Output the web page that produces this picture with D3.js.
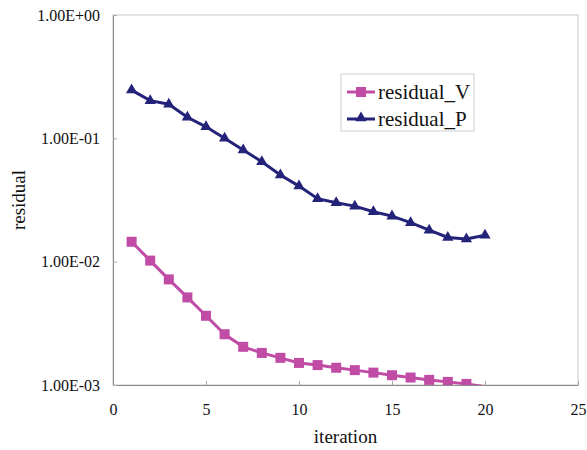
<!DOCTYPE html>
<html>
<head>
<meta charset="utf-8">
<script src="https://cdn.jsdelivr.net/npm/d3@7"></script>
<style>
  body { margin: 0; background: #fff; }
  svg text { font-family: "Liberation Serif", "Times New Roman", serif; fill: #111; }
</style>
</head>
<body>
<div id="chart"></div>
<script>
/* residual vs iteration, log scale */

var iterations = [1, 2, 3, 4, 5, 6, 7, 8, 9, 10, 11, 12, 13, 14, 15, 16, 17, 18, 19, 20];
var residualV = [0.0145, 0.0102, 0.00718, 0.00513, 0.00364, 0.00258, 0.00204, 0.00182, 0.00166, 0.00151,
                 0.00145, 0.00138, 0.00132, 0.00126, 0.00120, 0.00115, 0.00110, 0.00106, 0.00102, 0.00097];
var residualP = [0.246, 0.202, 0.189, 0.148, 0.124, 0.100, 0.0804, 0.0646, 0.0504, 0.0410,
                 0.0324, 0.0300, 0.0282, 0.0254, 0.0234, 0.0207, 0.0180, 0.0157, 0.0153, 0.0164];
var xTicks = [0, 5, 10, 15, 20, 25];
var yTicks = [1e-3, 1e-2, 1e-1, 1];
var yTickLabels = ['1.00E-03', '1.00E-02', '1.00E-01', '1.00E+00'];

var W = 587, H = 450;
var margin = { left: 113, right: 9, top: 15, bottom: 65 };

var svg = d3.select('#chart').append('svg')
    .attr('width', W)
    .attr('height', H);

var x = d3.scaleLinear().domain([0, 25]).range([margin.left, W - margin.right]);
var y = d3.scaleLog().domain([1e-3, 1]).range([H - margin.bottom, margin.top]);

// plot frame
svg.append('rect')
    .attr('x', x(0)).attr('y', y(1))
    .attr('width', x(25) - x(0)).attr('height', y(1e-3) - y(1))
    .attr('fill', 'none')
    .attr('stroke', '#c8c8c8')
    .attr('stroke-width', 1);

svg.append('defs').append('clipPath').attr('id', 'plot-clip')
    .append('rect')
    .attr('x', x(0)).attr('y', y(1))
    .attr('width', x(25) - x(0)).attr('height', y(1e-3) - y(1));

// axes (ticks pointing inward)
var xAxis = d3.axisBottom(x).tickValues(xTicks).tickSizeInner(-4).tickSizeOuter(0).tickPadding(19);
var gx = svg.append('g')
    .attr('transform', 'translate(0,' + y(1e-3) + ')')
    .call(xAxis);
gx.select('.domain').attr('stroke', '#8a8a8a');
gx.selectAll('.tick line').attr('stroke', '#aaa');
gx.selectAll('.tick text').attr('font-size', 16).attr('fill', '#111');

var yAxis = d3.axisLeft(y).tickValues(yTicks).tickSizeInner(-4).tickSizeOuter(0).tickPadding(13)
    .tickFormat(function(d, i) { return yTickLabels[i]; });
var gy = svg.append('g')
    .attr('transform', 'translate(' + x(0) + ',0)')
    .call(yAxis);
gy.select('.domain').attr('stroke', '#8a8a8a');
gy.selectAll('.tick line').attr('stroke', '#aaa');
gy.selectAll('.tick text').attr('font-size', 16).attr('fill', '#111');

svg.selectAll('.tick text').style('font-family', '"Liberation Serif", "Times New Roman", serif');

// series
var COLOR_V = '#c04ca6';
var COLOR_P = '#23237a';

var line = d3.line()
    .x(function(d) { return x(d[0]); })
    .y(function(d) { return y(d[1]); });

var dataV = iterations.map(function(it, i) { return [it, residualV[i]]; });
var dataP = iterations.map(function(it, i) { return [it, residualP[i]]; });

var plot = svg.append('g').attr('clip-path', 'url(#plot-clip)');

plot.append('path')
    .datum(dataV)
    .attr('d', line)
    .attr('fill', 'none')
    .attr('stroke', COLOR_V)
    .attr('stroke-width', 3);

plot.selectAll('rect.mv')
    .data(dataV.filter(function(d) { return d[1] >= 1e-3; }))
    .join('rect')
    .attr('class', 'mv')
    .attr('x', function(d) { return x(d[0]) - 5; })
    .attr('y', function(d) { return y(d[1]) - 5; })
    .attr('width', 10)
    .attr('height', 10)
    .attr('fill', COLOR_V);

plot.append('path')
    .datum(dataP)
    .attr('d', line)
    .attr('fill', 'none')
    .attr('stroke', COLOR_P)
    .attr('stroke-width', 3);

var tri = d3.symbol().type(d3.symbolTriangle).size(55);
plot.selectAll('path.mp')
    .data(dataP)
    .join('path')
    .attr('class', 'mp')
    .attr('d', tri)
    .attr('transform', function(d) { return 'translate(' + x(d[0]) + ',' + y(d[1]) + ')'; })
    .attr('fill', COLOR_P);

// legend
var lg = svg.append('g').attr('transform', 'translate(341,74)');
lg.append('rect')
    .attr('width', 133).attr('height', 57)
    .attr('fill', '#fff')
    .attr('stroke', '#cfcfcf');

lg.append('line').attr('x1', 6).attr('x2', 34).attr('y1', 18).attr('y2', 18)
    .attr('stroke', COLOR_V).attr('stroke-width', 3);
lg.append('rect').attr('x', 15).attr('y', 13).attr('width', 10).attr('height', 10).attr('fill', COLOR_V);
lg.append('text').attr('x', 37).attr('y', 25).attr('font-size', 21).text('residual_V');

lg.append('line').attr('x1', 6).attr('x2', 34).attr('y1', 45).attr('y2', 45)
    .attr('stroke', COLOR_P).attr('stroke-width', 3);
lg.append('path').attr('d', tri).attr('transform', 'translate(20,44)').attr('fill', COLOR_P);
lg.append('text').attr('x', 37).attr('y', 52).attr('font-size', 21).text('residual_P');

// axis titles
svg.append('text')
    .attr('x', (x(0) + x(25)) / 2)
    .attr('y', 443)
    .attr('text-anchor', 'middle')
    .attr('font-size', 19)
    .text('iteration');

svg.append('text')
    .attr('transform', 'translate(25,' + ((y(1) + y(1e-3)) / 2) + ') rotate(-90)')
    .attr('text-anchor', 'middle')
    .attr('font-size', 19)
    .text('residual');
</script>
</body>
</html>
